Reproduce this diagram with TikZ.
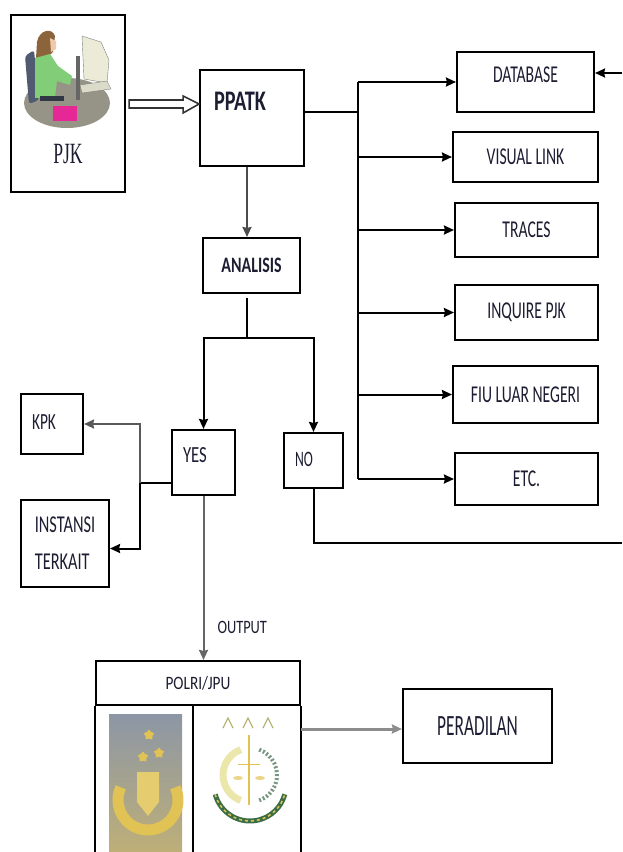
\documentclass[tikz,border=0pt]{standalone}
\usepackage{graphicx}
\usepackage{fontspec}
\setmainfont{Carlito}
\newfontfamily\serifpjk{Liberation Serif}
\usepackage{tikz}
\usetikzlibrary{arrows.meta, shapes.geometric}
\definecolor{ink}{RGB}{28,28,50}
\definecolor{desk}{RGB}{150,148,135}
\definecolor{chair}{RGB}{80,90,112}
\definecolor{shirt}{RGB}{130,205,120}
\definecolor{hair}{RGB}{140,100,60}
\definecolor{skin}{RGB}{240,200,170}
\definecolor{screen}{RGB}{235,235,215}
\definecolor{bag}{RGB}{230,40,150}
\definecolor{gold}{RGB}{225,195,85}
\definecolor{emolive}{RGB}{185,180,120}
\definecolor{moon}{RGB}{235,230,170}
\definecolor{ribbon}{RGB}{60,110,70}
\definecolor{dotgreen}{RGB}{120,150,130}
\newcommand{\sq}[2][0.68]{\scalebox{#1}[1.05]{#2}}
\tikzstyle{wire} = [line width=2pt]
\tikzstyle{arrow} = [line width=2pt, -{Stealth[length=10pt,width=9pt,inset=1pt]}]
\tikzstyle{box} = [rectangle, draw=black, line width=2.1pt, inner sep=0pt, text=ink, font=\fontsize{23}{26}\selectfont]
\tikzstyle{lbl} = [text=ink, inner sep=0pt, font=\fontsize{23}{26}\selectfont]
\tikzstyle{hollow} = [line width=1.6pt, draw=black!80, fill=white]
\begin{document}
\begin{tikzpicture}[x=1pt,y=-1pt]
\useasboundingbox (0,0) rectangle (622,852);
% left and top boxes
\node (pjk) [box, minimum width=114pt, minimum height=177pt, label={[lbl, font=\serifpjk\fontsize{28}{28}\selectfont, yshift=-50.5pt]center:\sq[0.63]{PJK}}] at (68,103.5) {};
\node (ppatk) [box, minimum width=104pt, minimum height=96pt, label={[lbl, font=\bfseries\fontsize{27}{27}\selectfont, xshift=-12pt, yshift=17pt]center:\sq[0.75]{PPATK}}] at (252,118) {};
\node (ana) [box, minimum width=97pt, minimum height=55pt, font=\bfseries\fontsize{21}{21}\selectfont] at (251.5,265.5) {\sq[0.76]{ANALISIS}};
% right column
\node (db) [box, minimum width=137pt, minimum height=60pt, label={[lbl, yshift=7pt]center:\sq{DATABASE}}] at (525.5,82) {};
\node (vis) [box, minimum width=145pt, minimum height=50pt] at (525.5,157) {\sq{VISUAL LINK}};
\node (trc) [box, minimum width=143pt, minimum height=54pt] at (526.5,230) {\sq{TRACES}};
\node (inq) [box, minimum width=143pt, minimum height=55pt] at (526.5,312.5) {\sq{INQUIRE PJK}};
\node (fiu) [box, minimum width=145pt, minimum height=57pt] at (525.5,394.5) {\sq{FIU LUAR NEGERI}};
\node (etc) [box, minimum width=143pt, minimum height=52pt] at (526.5,479) {\sq{ETC.}};
% decision
\node (yes) [box, minimum width=63pt, minimum height=65pt, label={[lbl, font=\fontsize{22}{22}\selectfont, xshift=-8.5pt, yshift=7pt]center:\sq[0.76]{YES}}] at (203.5,462.5) {};
\node (no) [box, minimum width=59pt, minimum height=55pt, label={[lbl, font=\fontsize{21}{21}\selectfont, xshift=-9.5pt, yshift=1.5pt]center:\sq[0.65]{NO}}] at (313.5,460.5) {};
\node (kpk) [box, minimum width=62pt, minimum height=60pt, label={[lbl, font=\fontsize{22}{22}\selectfont, xshift=-8pt, yshift=1.5pt]center:\sq[0.7]{KPK}}] at (52,424) {};
\node (ins) [box, minimum width=88pt, minimum height=87pt, align=left, font=\fontsize{23}{37}\selectfont] at (65,543.5) {\sq[0.71]{INSTANSI}\\\sq[0.71]{TERKAIT}};
% bottom
\node (polri) [box, minimum width=204pt, minimum height=44pt, font=\fontsize{18}{18}\selectfont] at (198,683) {\sq[0.85]{POLRI/JPU}};
\draw[line width=2.1pt] (polri.south west) -- (polri.south west |- 0,860);
\draw[line width=2.1pt] (polri.south east) -- (polri.south east |- 0,860);
\draw[line width=2.1pt] (193,705) -- (193,860);
\node (per) [box, minimum width=149pt, minimum height=74pt, font=\fontsize{28}{28}\selectfont] at (477.5,726) {\sq[0.62]{PERADILAN}};

% PJK to PPATK
\draw[hollow] (pjk.east) ++(3,-3.5) -- ++(54,0) -- ++(0,-4) -- ++(16,8) -- ++(-16,9) -- ++(0,-5) -- ++(-54,0) -- cycle;
% PPATK to the tools
\coordinate (trunk) at (358,0);
\draw[wire] ([yshift=6pt]ppatk.east) -- ([yshift=6pt]ppatk.east -| trunk);
\draw[wire] (db.west -| trunk) -- (etc.west -| trunk);
\foreach \n in {db,vis,trc,inq,fiu,etc}
  \draw[arrow] (\n.west -| trunk) -- (\n.west);
% analysis
\draw[arrow, draw=black!70] ([xshift=-5pt]ppatk.south) -- ([xshift=-5pt]ppatk.south |- ana.north);
\coordinate (split) at (247,338);
\draw[wire] ([xshift=-4.5pt,yshift=-4pt]ana.south) -- (split);
\draw[arrow] (split) -| (yes.north);
\draw[arrow] (split) -| (no.north);
% yes
\coordinate (fork) at (140,483);
\draw[wire] (fork -| yes.west) -- (fork);
\draw[arrow, draw=black!65] (fork) |- (kpk.east);
\draw[arrow] (fork) |- ([yshift=-5pt]ins.east);
\draw[arrow, draw=black!60] (yes.south) -- (yes.south |- polri.north) node[lbl, pos=0.8, anchor=west, xshift=13pt, font=\fontsize{18}{18}\selectfont] {\sq[0.8]{OUTPUT}};
% no goes back
\coordinate (back) at (622,543);
\draw[wire] (no.south) |- (back);
\coordinate (backin) at (622,73);
\draw[arrow] (backin) -- (backin -| db.east);
% to court
\draw[arrow, draw=black!45, line width=3pt] ([yshift=-3pt]per.west -| polri.east) -- ([yshift=-3pt]per.west);

% clip art of the PJK
\fill[desk] (67,103) ellipse (43 and 25);
\fill[chair, rounded corners=3pt] (25,56) -- (34,50) -- (39,100) -- (29,104) -- cycle;
\fill[hair] (37,42) .. controls (39,30) and (52,27) .. (55,36) -- (53,52) -- (44,60) -- (36,58) -- cycle;
\fill[skin] (50,38) -- (56,41) -- (56,49) -- (51,52) -- cycle;
\fill[shirt] (35,58) -- (50,54) -- (58,66) -- (72,76) -- (70,85) -- (57,81) -- (55,97) -- (35,98) -- cycle;
\fill[chair!60!black] (40,96) rectangle (64,101);
\fill[black!60] (76,56) rectangle (80,100);
\filldraw[fill=screen, draw=gray] (82,36) -- (101,42) -- (109,60) -- (107,83) -- (84,79) -- cycle;
\filldraw[fill=screen!85!gray, draw=gray] (80,85) -- (107,81) -- (111,89) -- (82,93) -- cycle;
\fill[bag] (53,106) rectangle (77,121);

% police emblem
\shade[top color={rgb,255:red,140;green,150;blue,165}, bottom color={rgb,255:red,190;green,175;blue,120}] (109,714) rectangle (182,852);
\draw[gold, line width=11pt] (148,800) ++(205:30) arc (205:-25:30);
\fill[gold!85!white] (137,772) -- (159,772) -- (159,802) -- (148,816) -- (137,802) -- cycle;
\foreach \sx/\sy in {149/735, 143/757, 159/753}
  \node (star-\sx) [star, star points=5, fill=gold, minimum size=11pt, inner sep=0pt] at (\sx,\sy) {};

% prosecutor emblem
\foreach \ax in {228,248,268}
  \draw[emolive, line width=1.2pt] (\ax-5,728) -- (\ax,718) -- (\ax+5,728);
\draw[moon, line width=7pt] (250,775) ++(250:27) arc (250:110:27);
\draw[dotgreen, line width=4pt, dash pattern=on 2pt off 2pt] (250,775) ++(-70:27) arc (-70:70:27);
\draw[gold, line width=1.5pt] (249,735) -- (249,805);
\draw[gold, line width=1pt] (238,764) -- (260,764);
\fill[gold!70] (238,778) ellipse (5 and 2);
\fill[gold!70] (260,778) ellipse (5 and 2);
\draw[ribbon, line width=5pt] (250,785) ++(165:36) arc (165:15:36);
\draw[gold, line width=1.5pt, dash pattern=on 3pt off 3pt] (250,785) ++(165:36) arc (165:15:36);
\end{tikzpicture}
\end{document}
